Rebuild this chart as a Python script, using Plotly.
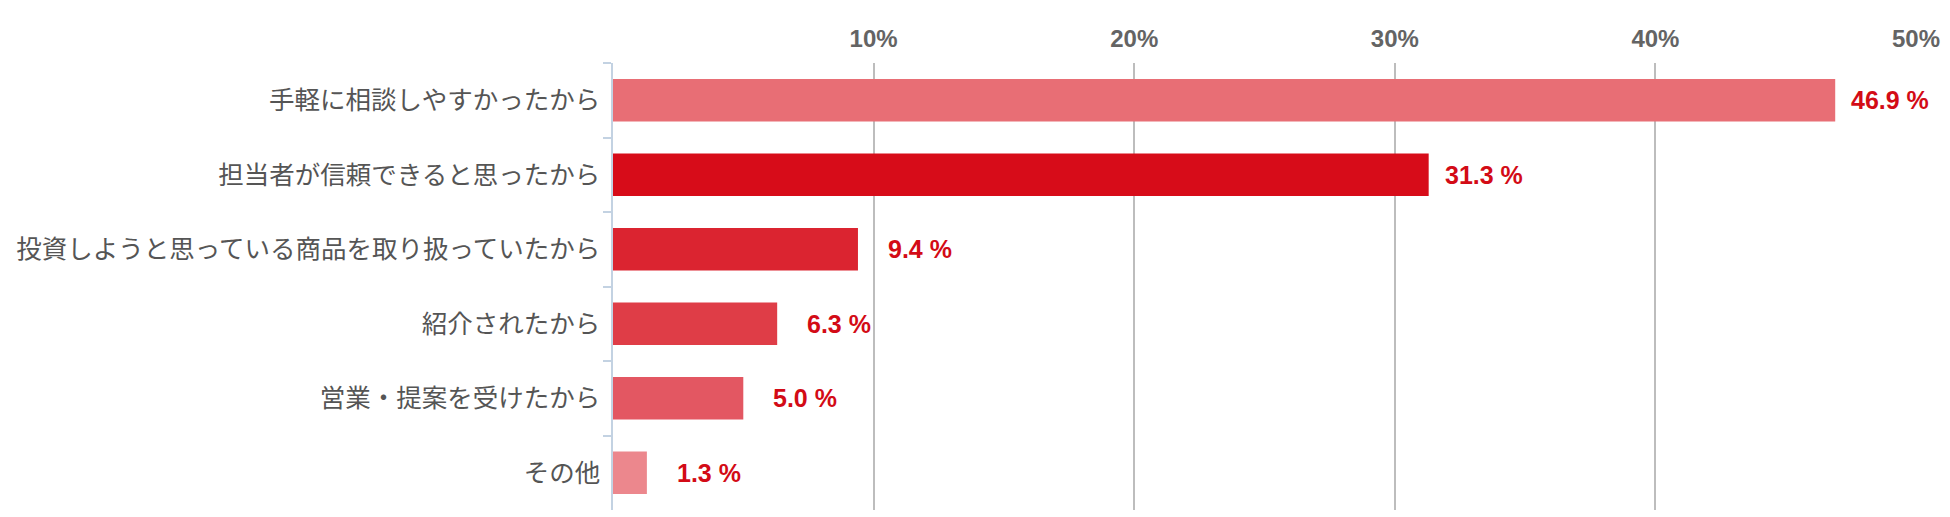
import plotly.graph_objects as go

categories = [
    "手軽に相談しやすかったから",
    "担当者が信頼できると思ったから",
    "投資しようと思っている商品を取り扱っていたから",
    "紹介されたから",
    "営業・提案を受けたから",
    "その他",
]
values = [46.9, 31.3, 9.4, 6.3, 5.0, 1.3]
tick_values = [10, 20, 30, 40, 50]
tick_labels = ["10%", "20%", "30%", "40%", "50%"]

bar_colors = ["#e86e75", "#d70c19", "#db2430", "#df3d47", "#e35762", "#ec878d"]
label_shifts = [14, 14, 28, 28, 28, 28]

fig = go.Figure()
fig.add_trace(go.Bar(
    x=values,
    y=categories,
    orientation="h",
    marker=dict(color=bar_colors, line=dict(width=0)),
    hoverinfo="skip",
))

for v, c, s in zip(values, categories, label_shifts):
    fig.add_annotation(
        x=v, y=c, xref="x", yref="y",
        text=f"{v:.1f} %",
        showarrow=False,
        xanchor="left", yanchor="middle",
        xshift=s,
        font=dict(family="Liberation Sans, Arial, sans-serif", size=25, color="#d30b16", weight="bold"),
    )

fig.update_layout(
    width=1950,
    height=517,
    margin=dict(l=605, r=42, t=55, b=15),
    plot_bgcolor="white",
    paper_bgcolor="white",
    bargap=0.43,
    showlegend=False,
)

fig.update_xaxes(
    side="top",
    range=[0, 50],
    tickvals=tick_values,
    ticktext=tick_labels,
    showgrid=True,
    gridcolor="#bdbdbd",
    gridwidth=1.5,
    zeroline=False,
    showline=False,
    ticks="",
    ticklabelstandoff=10,
    automargin=False,
    tickfont=dict(family="Liberation Sans, Arial, sans-serif", size=24, color="#646464", weight="bold"),
    fixedrange=True,
)

fig.update_yaxes(
    autorange="reversed",
    showline=True,
    linecolor="#c3d2e2",
    linewidth=1.5,
    ticks="outside",
    tickson="boundaries",
    ticklen=8,
    tickcolor="#c3d2e2",
    tickwidth=1.5,
    showgrid=False,
    automargin=False,
    tickfont=dict(family="Noto Sans CJK JP, sans-serif", size=25.5, color="#555555"),
    ticklabelstandoff=6,
    fixedrange=True,
)

fig.write_html("out.html")
